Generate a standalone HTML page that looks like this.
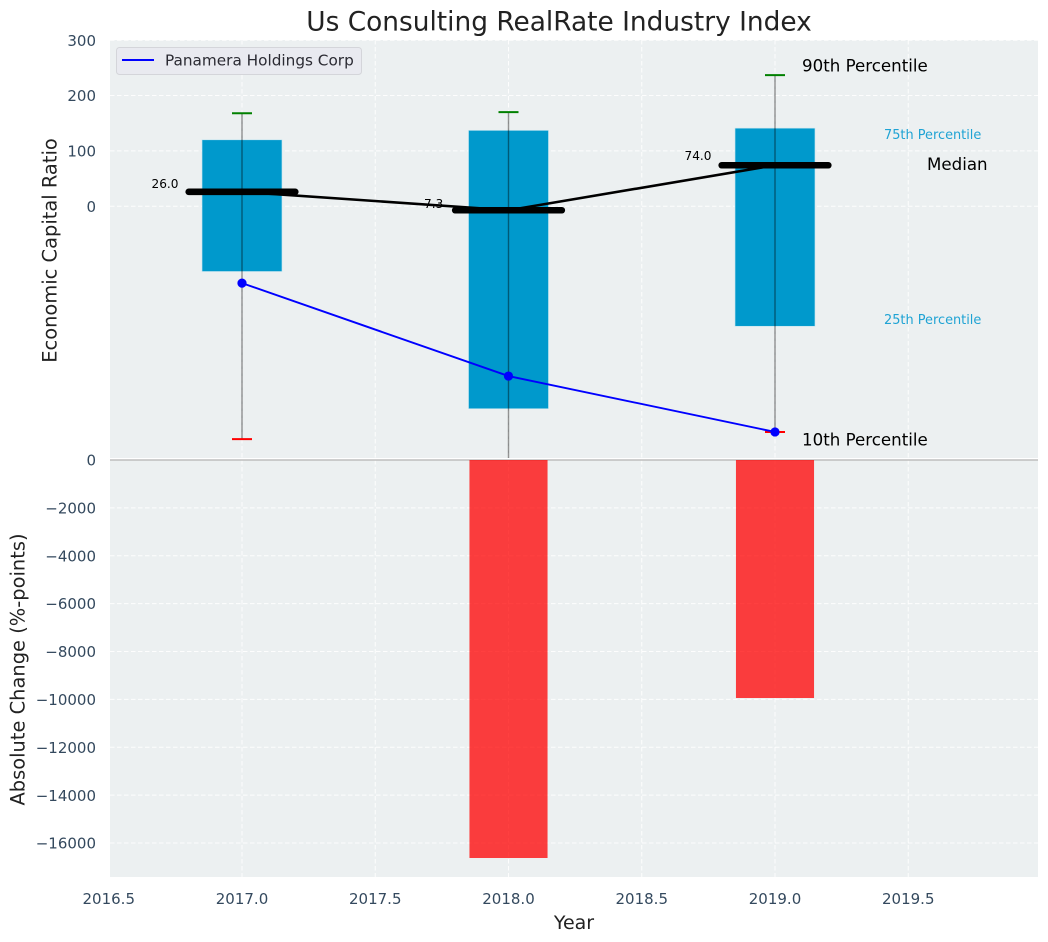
<!DOCTYPE html>
<html>
<head>
<meta charset="utf-8">
<title>Us Consulting RealRate Industry Index</title>
<style>
html,body{margin:0;padding:0;background:#fff}
svg{display:block}
text{font-family:"DejaVu Sans","Liberation Sans",sans-serif}
</style>
</head>
<body>
<svg id="chart" xmlns="http://www.w3.org/2000/svg" width="1048" height="942" viewBox="0 0 1048 942">
<defs><clipPath id="top-clip"><rect x="110" y="40" width="928" height="418"/></clipPath></defs>
</svg>
<script>
const years = [2017, 2018, 2019];
const p90 = [168, 170, 237];
const p75 = [120, 137, 141];
const medians = [26, -7.3, 74];
const p25 = [-118, -366, -217];
const p10 = [-421, -470, -408];
const company = [-139, -307, -408];
const absChange = [0, -16625, -9942];
const medianLabels = ['26.0', '-7.3', '74.0'];
const xTicks = [2016.5, 2017, 2017.5, 2018, 2018.5, 2019, 2019.5];
const topTicks = [300, 200, 100, 0];
const bottomTicks = [0, -2000, -4000, -6000, -8000, -10000, -12000, -14000, -16000];

const svg = document.getElementById('chart');
const NS = 'http://www.w3.org/2000/svg';
const L = 110, R = 1038, T = 40, M = 458, B = 877;
const xAt = v => 242 + (v - 2017) * 266.5;
const yTop = v => 206.2 - v * 0.5533;
const yBottom = v => 460 - v * 0.02394;

function make(tag, name, props, text) {
  const el = document.createElementNS(NS, tag);
  
  
  for (const k in props) el.setAttribute(k, props[k]);
  if (text !== undefined) el.textContent = text;
  svg.appendChild(el);
  return el;
}
function line(name, x1, y1, x2, y2, stroke, w, extra) {
  return make('line', name, Object.assign({x1, y1, x2, y2, stroke, 'stroke-width': w}, extra || {}));
}
function rect(name, x, y, width, height, fill, extra) {
  return make('rect', name, Object.assign({x, y, width, height, fill}, extra || {}));
}
function label(name, x, y, size, fill, str, anchor, extra) {
  return make('text', name, Object.assign({x, y, 'font-size': size, fill, 'text-anchor': anchor || 'start', 'dominant-baseline': 'central'}, extra || {}), str);
}

rect('top-plot-background', L, T, R - L, M - T + 1, '#ecf0f1');
rect('bottom-plot-background', L, 460, R - L, B - 460, '#ecf0f1');

const dash = {'stroke-dasharray': '4.5 2.5', opacity: 0.9};
xTicks.forEach(t => {
  line('top-x-gridline', xAt(t), T, xAt(t), M, '#fff', 1, dash);
  line('bottom-x-gridline', xAt(t), 460, xAt(t), B, '#fff', 1, dash);
});
topTicks.forEach(t => line('top-y-gridline', L, yTop(t), R, yTop(t), '#fff', 1, dash));
bottomTicks.slice(1).forEach(t => line('bottom-y-gridline', L, yBottom(t), R, yBottom(t), '#fff', 1, dash));

line('top-panel-bottom-edge', L, 458.6, R, 458.6, '#ffffff', 1.2);
line('panel-divider', L, 460, R, 460, '#bdbdbd', 1.5);

const boxW = 0.3, barW = 0.293, medW = 0.4, capPx = 10;
years.forEach((yr, i) => {
  const x = xAt(yr);
  const w = boxW * 266.5;
  rect('iqr-box-' + yr, x - w / 2, yTop(p75[i]), w, yTop(p25[i]) - yTop(p75[i]), '#0099cc', {stroke: '#bfe3ef', 'stroke-width': 0.6});
  if (absChange[i] !== 0) {
    const bw = barW * 266.5;
    rect('change-bar-' + yr, x - bw / 2, yBottom(0), bw, yBottom(absChange[i]) - yBottom(0), 'rgba(255,0,0,0.75)');
  }
});

const medianPts = years.map((yr, i) => xAt(yr) + ',' + yTop(medians[i])).join(' ');

years.forEach((yr, i) => {
  const gap = i === 1 ? 6 : (i === 2 ? 9.3 : 8);
  label('median-label-' + yr, xAt(yr) - 77, yTop(medians[i]) - gap, 12.1, '#000', medianLabels[i], 'middle');
});
make('polyline', 'median-trend-line', {points: medianPts, fill: 'none', stroke: '#000', 'stroke-width': 2.6});

years.forEach((yr, i) => {
  const x = xAt(yr);
  line('whisker-' + yr, x, yTop(p90[i]), x, yTop(p10[i]), 'rgba(0,0,0,0.42)', 1.4, {'clip-path': 'url(#top-clip)'});
  line('p90-cap-' + yr, x - capPx, yTop(p90[i]), x + capPx, yTop(p90[i]), '#008000', 2, {'clip-path': 'url(#top-clip)'});
  line('p10-cap-' + yr, x - capPx, yTop(p10[i]), x + capPx, yTop(p10[i]), '#ff0000', 2, {'clip-path': 'url(#top-clip)'});
  const mw = medW * 266.5;
  line('median-bar-' + yr, x - mw / 2, yTop(medians[i]), x + mw / 2, yTop(medians[i]), '#000', 6.6, {'stroke-linecap': 'round'});
});

const companyPts = years.map((yr, i) => xAt(yr) + ',' + yTop(company[i])).join(' ');
make('polyline', 'company-line', {points: companyPts, fill: 'none', stroke: '#0000ff', 'stroke-width': 1.9});
years.forEach((yr, i) => {
  make('circle', 'company-point-' + yr, {cx: xAt(yr), cy: yTop(company[i]), r: 4.6, fill: '#0000ff'});
});

topTicks.forEach(t => label('top-y-tick', 96, yTop(t) + 0.6, 15, '#34495e', String(t), 'end'));
bottomTicks.forEach(t => label('bottom-y-tick', 96, yBottom(t) + 0.6, 15, '#34495e', String(t).replace('-', '\u2212'), 'end'));
xTicks.forEach(t => label('x-tick', xAt(t), 899, 15, '#34495e', t.toFixed(1), 'middle'));

label('chart-title', 559, 22, 26.4, '#222222', 'Us Consulting RealRate Industry Index', 'middle');
label('x-axis-title', 574, 923, 19, '#222222', 'Year', 'middle');
label('top-y-axis-title', 0, 0, 19.44, '#222222', 'Economic Capital Ratio', 'middle', {transform: 'translate(50 250.5) rotate(-90)'});
label('bottom-y-axis-title', 0, 0, 19.44, '#222222', 'Absolute Change (%-points)', 'middle', {transform: 'translate(18 669.5) rotate(-90)'});

label('p90-annotation', 802, 66, 16.67, '#000', '90th Percentile');
label('p10-annotation', 802, 440, 16.67, '#000', '10th Percentile');
label('median-annotation', 927, 164.5, 16.67, '#000', 'Median');
label('p75-annotation', 884, 135.7, 12.9, '#1fa3d4', '75th Percentile');
label('p25-annotation', 884, 320.7, 12.9, '#1fa3d4', '25th Percentile');

rect('legend-box', 116.5, 47.5, 245, 27, '#e9eaf0', {stroke: '#d4d5da', 'stroke-width': 1, rx: 3});
line('legend-line', 122, 60, 154, 60, '#0000ff', 1.9);
label('legend-label', 165, 60.5, 15.28, '#2b2b33', 'Panamera Holdings Corp');
</script>
</body>
</html>
